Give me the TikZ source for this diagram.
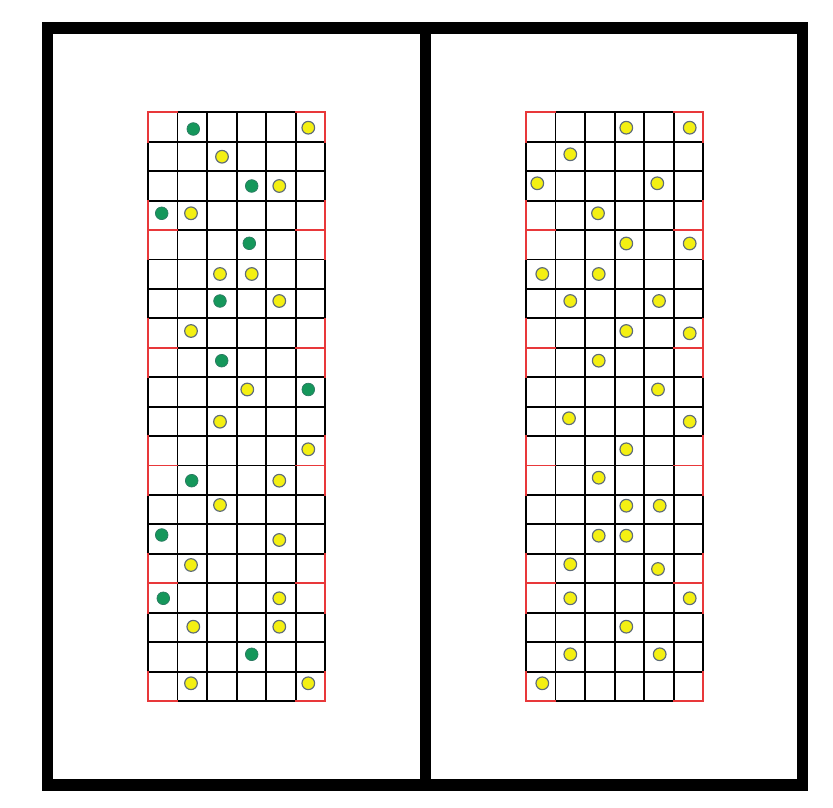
\documentclass[tikz,border=0pt]{standalone}
\usepackage{xcolor}
\usepackage{tikz}

\definecolor{dotyellow}{HTML}{F4F012}
\definecolor{dotrim}{HTML}{5E6C78}
\definecolor{dotgreen}{HTML}{15975B}
\definecolor{greenrim}{HTML}{2C7A62}
\definecolor{edgered}{HTML}{E8383A}

\begin{document}
\begin{tikzpicture}[
		x=0.03cm, y=-0.03cm,
		frame/.style={draw, line width=0.35cm, line cap=rect},
		gridline/.style={draw=black, line width=1.6pt, line cap=rect},
		redline/.style={draw=edgered, line width=1.4pt, line cap=rect},
		ydot/.style={circle, draw=dotrim, line width=1pt, fill=dotyellow, minimum size=3.8mm, inner sep=0pt},
		gdot/.style={circle, draw=greenrim, line width=0.6pt, fill=dotgreen, minimum size=3.8mm, inner sep=0pt}
		]
		\useasboundingbox (0,0) rectangle (833,808);
		
		% Outer frame and divider
		\draw[frame] (47.5,28.2) rectangle (802.5,785);
		\draw[frame] (425.5,28.2) -- (425.5,785);
		
		% Two 6 x 20 grids
		\foreach \gx in {148,526} {
			\foreach \i in {0,...,6}
				\draw[gridline] (\gx+\i*29.55,112.3) -- (\gx+\i*29.55,701);
			\foreach \j in {0,...,20}
				\draw[gridline] (\gx,112.3+\j*29.435) -- (\gx+177.3,112.3+\j*29.435);
			% red marks on the outer columns
			\foreach \k/\a/\b in {0/0/1, 4/3/5, 8/7/9, 12/11/13, 16/15/17, 20/19/20} {
				\draw[redline] (\gx,112.3+\a*29.435) -- (\gx,112.3+\b*29.435);
				\draw[redline] (\gx,112.3+\k*29.435) -- (\gx+29.55,112.3+\k*29.435);
				\draw[redline] (\gx+177.3,112.3+\a*29.435) -- (\gx+177.3,112.3+\b*29.435);
				\draw[redline] (\gx+147.75,112.3+\k*29.435) -- (\gx+177.3,112.3+\k*29.435);
			}
		}
		
		% Left grid: yellow dots
		\foreach \x/\y [count=\n] in {308.3/127.7, 222/156.7, 279.3/186, 191/213.3, 220/274, 251.7/274,
			279.3/301, 191/331, 247.3/389.5, 220/421.7, 308.3/449.3, 279.3/480.7, 220/505, 279.3/540,
			191/565, 279.3/598.3, 193.3/626.7, 279.3/626.7, 191/683.3, 308.3/683.3}
			\node[ydot] (ly\n) at (\x,\y) {};
		
		% Left grid: green dots
		\foreach \x/\y [count=\n] in {193.3/129, 251.7/186, 161.7/213.3, 249.3/243.3, 220/301, 221.7/360.7,
			308.3/389.5, 191.7/480.7, 161.7/535, 163.3/598.3, 251.7/654.3}
			\node[gdot] (lg\n) at (\x,\y) {};
		
		% Right grid: yellow dots
		\foreach \x/\y [count=\n] in {626.3/127.7, 689.7/127.7, 570.3/154.3, 537.3/183.3, 657.3/183.3,
			598/213.3, 626.3/243.5, 689.7/243.5, 542.3/274, 598.7/274, 570.3/301, 659/301, 626.3/331,
			689.7/333.3, 598.7/360.7, 658/389.5, 569/418.3, 689.7/421.7, 626.3/449.3, 598.7/477.7,
			626.3/505.7, 659.7/505.7, 598.7/535.7, 626.3/535.7, 570.3/564.3, 658/569, 570.3/598.3,
			689.7/598.3, 626.3/626.7, 570.3/654.3, 659.7/654.3, 542.3/683.3}
			\node[ydot] (ry\n) at (\x,\y) {};
		
	\end{tikzpicture}
\end{document}
